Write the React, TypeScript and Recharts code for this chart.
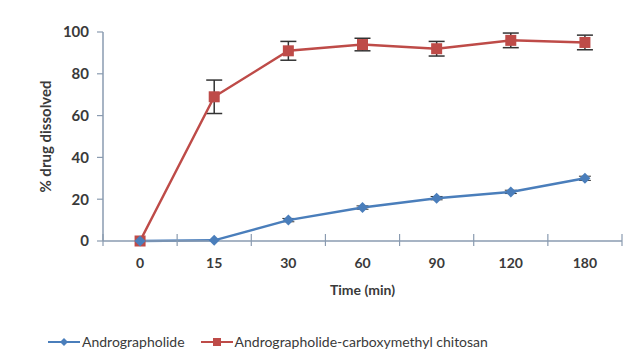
import React from 'react'
import {
  ErrorBar,
  Label,
  Legend,
  Line,
  LineChart,
  XAxis,
  YAxis,
} from 'recharts'

// time points (min) shown as evenly spaced categories
const TIMES = ['0', '15', '30', '60', '90', '120', '180']
const ANDRO = [0, 0.3, 10, 16, 20.5, 23.5, 30]
const ANDRO_ERR = [0, 0, 0.8, 0.8, 0.8, 0.8, 1]
const ANDRO_CMC = [0, 69, 91, 94, 92, 96, 95]
const ANDRO_CMC_ERR = [0, 8, 4.5, 3, 3.5, 3.5, 3.5]
const Y_TICKS = [0, 20, 40, 60, 80, 100]

const BLUE = '#4a7ebb'
const RED = '#be4b48'
const AXIS = '#8a9bb0'
const TEXT = '#3a3a3a'
const FONT = 'Lato, "Open Sans", sans-serif'

const data = TIMES.map((t, i) => ({
  x: i + 0.5,
  label: t,
  andro: ANDRO[i],
  androErr: ANDRO_ERR[i],
  cmc: ANDRO_CMC[i],
  cmcErr: ANDRO_CMC_ERR[i],
}))

// labels sit in the middle of each category, tick marks on the boundaries
const xTicks: number[] = []
TIMES.forEach((_, i) => xTicks.push(i, i + 0.5))
xTicks.push(TIMES.length)

function Diamond(props: any) {
  const { cx, cy } = props
  if (cx == null || cy == null) return null
  return (
    <path
      d={`M${cx},${cy - 5.5}L${cx + 5.5},${cy}L${cx},${cy + 5.5}L${cx - 5.5},${cy}Z`}
      fill={BLUE}
    />
  )
}

function Square(props: any) {
  const { cx, cy } = props
  if (cx == null || cy == null) return null
  return <rect x={cx - 5.5} y={cy - 5.5} width={11} height={11} fill={RED} />
}

function XTick(props: any) {
  const { x, y, payload } = props
  const v = payload.value as number
  if (Number.isInteger(v)) {
    return <line x1={x} x2={x} y1={y - 7} y2={y + 5} stroke={AXIS} strokeWidth={1.2} />
  }
  return (
    <text
      x={x}
      y={y + 21}
      textAnchor="middle"
      dominantBaseline="central"
      fill={TEXT}
      fontSize={14}
      fontFamily={FONT}
      fontWeight={700}
    >
      {TIMES[Math.round(v - 0.5)]}
    </text>
  )
}

function LegendContent() {
  const items = [
    { name: 'Andrographolide', color: BLUE, shape: 'diamond' },
    { name: 'Andrographolide-carboxymethyl chitosan', color: RED, shape: 'square' },
  ]
  return (
    <div style={{ display: 'flex', paddingLeft: 48, fontFamily: FONT, fontSize: 14, color: TEXT }}>
      {items.map((it) => (
        <div key={it.name} style={{ display: 'flex', alignItems: 'center', marginRight: 16 }}>
          <svg width={32} height={12}>
            <line x1={0} x2={32} y1={6} y2={6} stroke={it.color} strokeWidth={2} />
            {it.shape === 'diamond' ? (
              <path d="M16,2L20,6L16,10L12,6Z" fill={it.color} />
            ) : (
              <rect x={12} y={2} width={8} height={8} fill={it.color} />
            )}
          </svg>
          <span style={{ marginLeft: 2 }}>{it.name}</span>
        </div>
      ))}
    </div>
  )
}

export default function App() {
  return (
    <div style={{ position: 'relative', margin: -8, width: 637, height: 364, background: '#fff' }}>
      <div style={{ position: 'absolute', left: 5, top: 10, width: 2, height: 354, background: '#a8a8a8' }} />
      <LineChart
        width={637}
        height={364}
        data={data}
        margin={{ top: 32, right: 15, bottom: 14, left: 0 }}
      >
        <XAxis
          type="number"
          dataKey="x"
          domain={[0, TIMES.length]}
          ticks={xTicks}
          tick={<XTick />}
          tickLine={false}
          tickSize={0}
          tickMargin={0}
          axisLine={{ stroke: AXIS, strokeWidth: 1.5 }}
          interval={0}
          height={92}
        >
          <Label
            value="Time (min)"
            position="insideTop"
            offset={44}
            style={{ fill: TEXT, fontSize: 14, fontFamily: FONT, fontWeight: 700 }}
          />
        </XAxis>
        <YAxis
          domain={[0, 100]}
          ticks={Y_TICKS}
          width={103}
          tickSize={6}
          tickMargin={8}
          axisLine={{ stroke: AXIS, strokeWidth: 1.5 }}
          tickLine={{ stroke: AXIS, strokeWidth: 1.2 }}
          tick={{ fill: TEXT, fontSize: 15, fontFamily: FONT, fontWeight: 700 }}
          interval={0}
        >
          <Label
            content={({ viewBox }: any) => {
              const cx = 45
              const cy = viewBox.y + viewBox.height / 2
              return (
                <text
                  x={cx}
                  y={cy}
                  transform={`rotate(-90 ${cx} ${cy})`}
                  textAnchor="middle"
                  dominantBaseline="central"
                  fill={TEXT}
                  fontSize={15}
                  fontFamily={FONT}
                  fontWeight={700}
                >
                  % drug dissolved
                </text>
              )
            }}
          />
        </YAxis>
        <Legend verticalAlign="bottom" content={<LegendContent />} />
        <Line
          dataKey="cmc"
          stroke={RED}
          strokeWidth={2.5}
          dot={<Square />}
          activeDot={false}
          isAnimationActive={false}
        >
          <ErrorBar dataKey="cmcErr" width={8} stroke="#333" strokeWidth={1.5} isAnimationActive={false} />
        </Line>
        <Line
          dataKey="andro"
          stroke={BLUE}
          strokeWidth={2.5}
          dot={<Diamond />}
          activeDot={false}
          isAnimationActive={false}
        >
          <ErrorBar dataKey="androErr" width={6} stroke="#333" strokeWidth={1} isAnimationActive={false} />
        </Line>
      </LineChart>
    </div>
  )
}
